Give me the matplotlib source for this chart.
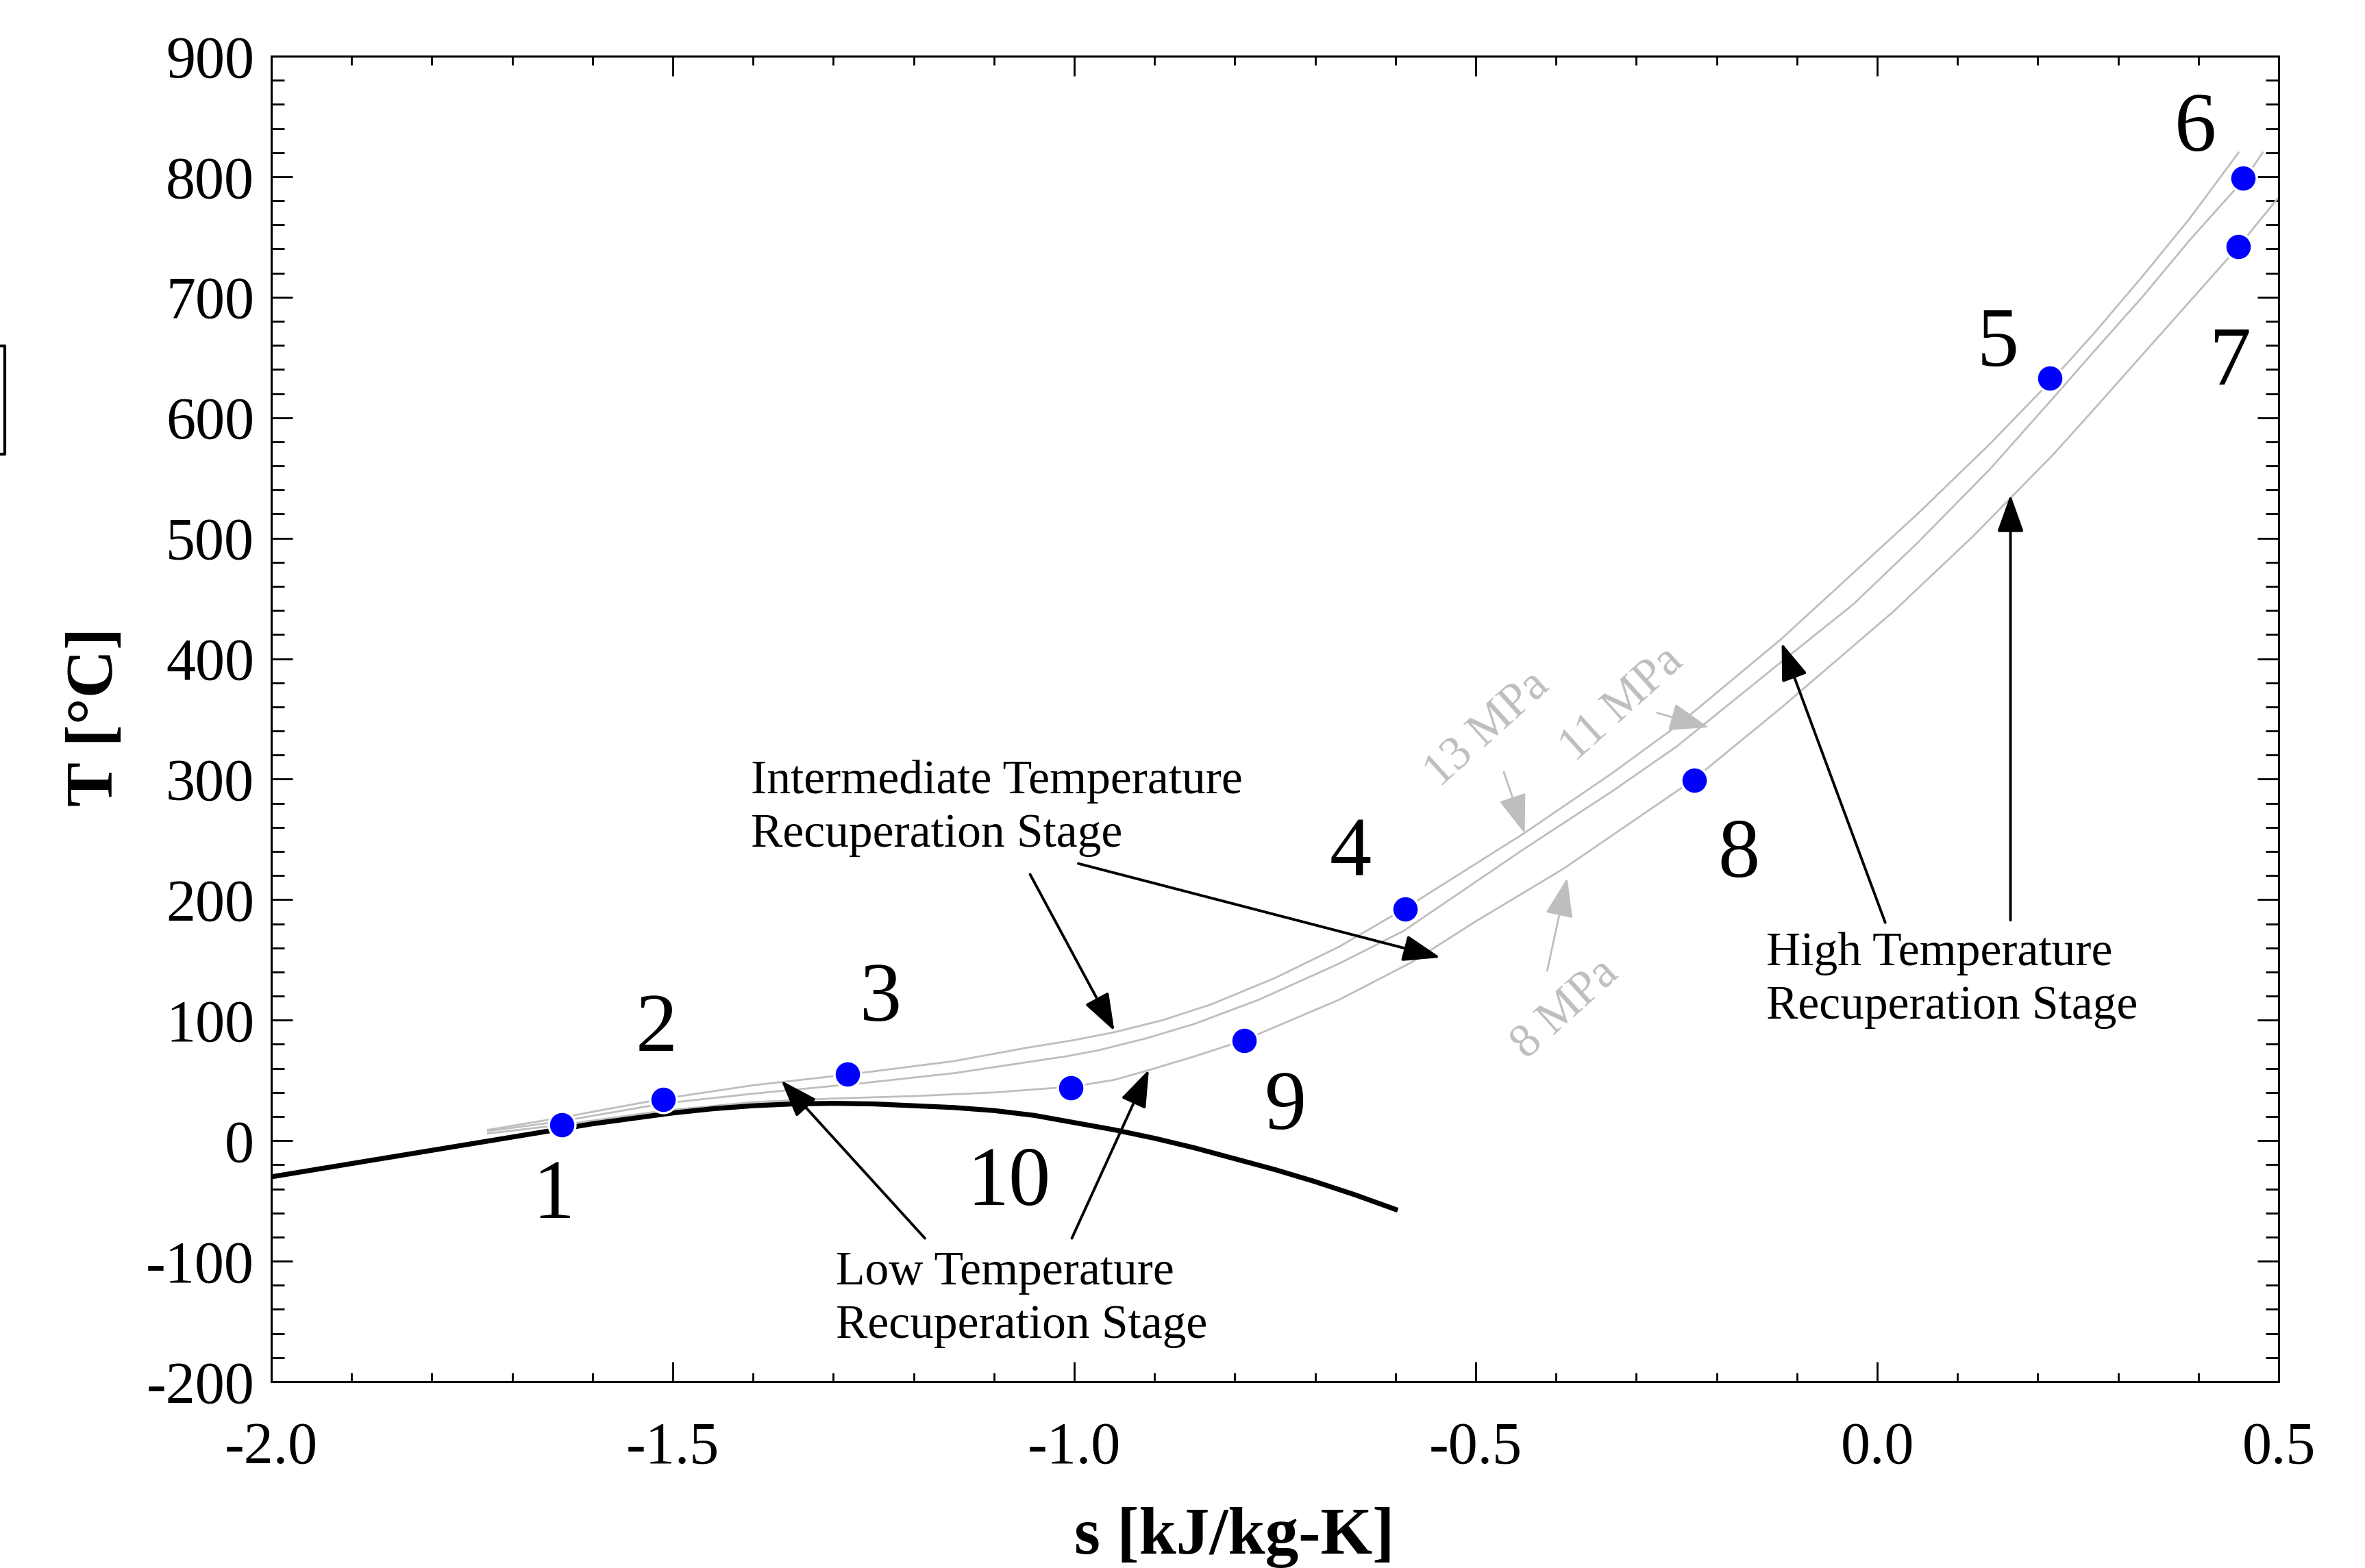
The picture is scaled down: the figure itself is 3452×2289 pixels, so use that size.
import matplotlib
matplotlib.use('Agg')
import matplotlib.pyplot as plt
from matplotlib.ticker import MultipleLocator, FormatStrFormatter
from matplotlib.lines import Line2D

plt.rcParams['font.family'] = ['Liberation Serif', 'DejaVu Serif']
plt.rcParams['axes.unicode_minus'] = False

# saturation dome
dome_s = [-2.0, -1.9, -1.8, -1.7, -1.6, -1.5, -1.45, -1.4, -1.35, -1.3, -1.25, -1.2, -1.15,
          -1.1, -1.05, -1.0, -0.95, -0.9, -0.85, -0.8, -0.75, -0.7, -0.65, -0.6]
dome_T = [-30, -19, -8, 3, 14, 23, 26.5, 29, 30.5, 31, 30.5, 29, 27.5, 25, 21, 15, 9, 2,
          -6, -15, -24, -34, -45, -57]

# isobars
p13_s = [-1.73, -1.64, -1.51, -1.40, -1.28, -1.15, -1.06, -1.00, -0.95, -0.89, -0.83, -0.75,
         -0.67, -0.59, -0.44, -0.33, -0.25, -0.12, -0.03, 0.05, 0.14, 0.22, 0.27, 0.33, 0.39,
         0.45]
p13_T = [9, 19, 35, 46, 55, 66, 77, 83.5, 90, 100, 113, 135, 161, 192, 255, 305, 344, 416,
         471, 520, 578, 633, 670, 717, 766, 820]

p11_s = [-1.73, -1.64, -1.51, -1.40, -1.26, -1.15, -1.06, -1.01, -0.97, -0.91, -0.85, -0.77,
         -0.67, -0.59, -0.44, -0.33, -0.25, -0.12, -0.03, 0.05, 0.14, 0.22, 0.27, 0.33, 0.39,
         0.46, 0.48]
p11_T = [8, 16, 31, 39, 48, 56, 65, 70, 75, 85, 97, 117, 147, 174, 242, 290, 327, 397, 445,
         496, 557, 617, 655, 700, 748, 800, 820]

p8_s = [-1.73, -1.64, -1.51, -1.40, -1.30, -1.20, -1.10, -1.00, -0.95, -0.91, -0.85, -0.79,
        -0.67, -0.58, -0.50, -0.39, -0.23, -0.12, 0.02, 0.12, 0.22, 0.27, 0.33, 0.39, 0.45,
        0.50]
p8_T = [6, 13, 25, 32, 35, 37, 40, 45, 50.5, 58, 70, 83, 117, 148, 182, 226, 299, 359, 439,
        502, 570, 607, 652, 697, 742, 783]

# cycle state points 1..10
pt_s = [-1.638, -1.512, -1.282, -0.588, 0.215, 0.456, 0.450, -0.228, -0.788, -1.004]
pt_T = [13, 34, 55, 192, 633, 799, 742, 299, 83, 44]
pt_labels = ['1', '2', '3', '4', '5', '6', '7', '8', '9', '10']
lab_s = [-1.649, -1.520, -1.241, -0.656, 0.150, 0.396, 0.440, -0.172, -0.737, -1.082]
lab_T = [-41, 98, 123, 243, 666, 845, 651, 242, 33, -30]

# pressure labels
pres_labels = ['13 MPa', '11 MPa', '8 MPa']
pres_s = [-0.485, -0.318, -0.388]
pres_T = [341, 362, 109]
pres_tail = [(-0.465, 306), (-0.274, 355), (-0.411, 141)]
pres_tip = [(-0.439, 255), (-0.210, 343), (-0.386, 218)]

# stage annotations
stage_text = ['Intermediate Temperature\nRecuperation Stage',
              'Low Temperature\nRecuperation Stage',
              'High Temperature\nRecuperation Stage']
stage_pos = [(-1.403, 276), (-1.297, -132), (-0.138, 133)]
stage_arrows = [
    [((-1.055, 221), (-0.950, 91)), ((-0.995, 230), (-0.544, 152))],
    [((-1.186, -81), (-1.365, 50)), ((-1.003, -81), (-0.907, 59))],
    [((0.010, 181), (-0.119, 413)), ((0.166, 183), (0.166, 536))],
]

W, H = 3452, 2289
fig = plt.figure(figsize=(W / 200, H / 200), dpi=200)
ax = fig.add_axes([396 / W, 1 - 2017 / H, 2930 / W, 1935 / H])

gray = '#bebebe'
ax.plot(p13_s, p13_T, color=gray, lw=1.0, zorder=2)
ax.plot(p11_s, p11_T, color=gray, lw=1.0, zorder=2)
ax.plot(p8_s, p8_T, color=gray, lw=1.0, zorder=2)
ax.plot(dome_s, dome_T, color='black', lw=2.6, zorder=3)
ax.plot(pt_s, pt_T, 'o', color='#0000ff', ms=14, mec='white', mew=1.2, zorder=5)

for t, xs, ys in zip(pt_labels, lab_s, lab_T):
    ax.annotate(t, (xs, ys), xytext=(0, -4), textcoords='offset points',
                fontsize=44, ha='center', va='center', zorder=6)

for t, xs, ys in zip(pres_labels, pres_s, pres_T):
    ax.text(xs, ys, t, fontsize=25, color=gray, rotation=42, ha='center', va='center',
            rotation_mode='anchor')
for tail, tip in zip(pres_tail, pres_tip):
    ax.annotate('', xy=tip, xytext=tail,
                arrowprops=dict(arrowstyle='-|>,head_length=0.45,head_width=0.16',
                                mutation_scale=40, color=gray, lw=1.0,
                                shrinkA=0, shrinkB=0))

for t, pos, arrs in zip(stage_text, stage_pos, stage_arrows):
    ax.text(pos[0], pos[1], t, fontsize=25, ha='left', va='center', linespacing=1.3)
    for tail, tip in arrs:
        ax.annotate('', xy=tip, xytext=tail,
                    arrowprops=dict(arrowstyle='-|>,head_length=0.42,head_width=0.15',
                                    mutation_scale=40, color='black', lw=1.4,
                                    shrinkA=0, shrinkB=0), zorder=4)

ax.set_xlim(-2.0, 0.5)
ax.set_ylim(-200, 900)
ax.xaxis.set_major_locator(MultipleLocator(0.5))
ax.xaxis.set_minor_locator(MultipleLocator(0.1))
ax.yaxis.set_major_locator(MultipleLocator(100))
ax.yaxis.set_minor_locator(MultipleLocator(20))
ax.xaxis.set_major_formatter(FormatStrFormatter('%.1f'))
ax.yaxis.set_major_formatter(FormatStrFormatter('%d'))
ax.tick_params(which='both', direction='in', top=True, right=True, width=1.0, labelsize=31)
ax.tick_params(axis='x', which='major', length=10.5, pad=21)
ax.tick_params(axis='x', which='minor', length=4.8)
ax.tick_params(axis='y', which='major', length=11, pad=9)
ax.tick_params(axis='y', which='minor', length=7)
for sp in ax.spines.values():
    sp.set_linewidth(1.1)

fig.text(1802 / W, 1 - 2200 / H, 's [kJ/kg-K]', fontsize=35, fontweight='bold',
         ha='center', va='top')
fig.text(140 / W, 1 - 1046 / H, 'T [°C]', fontsize=35, fontweight='bold',
         rotation=90, ha='center', va='center')

# clipped frame fragment at the left edge
fig.add_artist(Line2D([0, 7 / W, 7 / W, 0], [1 - 505 / H, 1 - 505 / H, 1 - 663 / H, 1 - 663 / H],
                      transform=fig.transFigure, color='black', lw=1.5))

fig.savefig('out.png', dpi=200)
